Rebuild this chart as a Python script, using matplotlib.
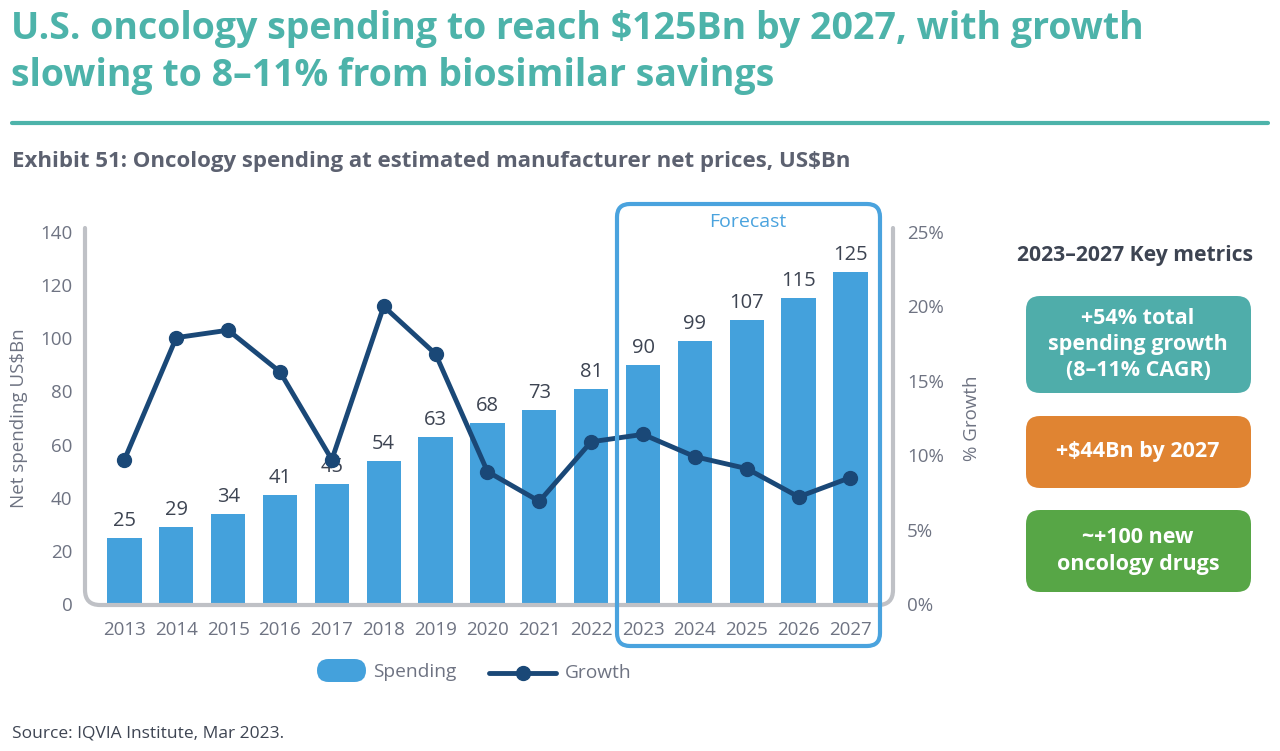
import matplotlib
matplotlib.use('Agg')
import matplotlib.pyplot as plt
from matplotlib.path import Path
from matplotlib.patches import PathPatch, FancyBboxPatch
from matplotlib.lines import Line2D

plt.rcParams['font.family'] = ['Open Sans', 'DejaVu Sans']

# ---------------- data ----------------
years = [str(y) for y in range(2013, 2028)]
spending = [25, 29, 34, 41, 45, 54, 63, 68, 73, 81, 90, 99, 107, 115, 125]
growth = [9.7, 17.9, 18.4, 15.6, 9.7, 20.0, 16.8, 8.9, 6.9, 10.9, 11.4, 9.9, 9.1, 7.2, 8.5]
left_ticks = [0, 20, 40, 60, 80, 100, 120, 140]
right_ticks = [0, 5, 10, 15, 20, 25]
right_tick_labels = ['0%', '5%', '10%', '15%', '20%', '25%']
metric_texts = ["+54% total\nspending growth\n(8–11% CAGR)", "+$44Bn by 2027", "~+100 new\noncology drugs"]
metric_colors = ['#4FADAA', '#E08432', '#57A646']

title_lines = ["U.S. oncology spending to reach $125Bn by 2027, with growth",
               "slowing to 8–11% from biosimilar savings"]
subtitle = "Exhibit 51: Oncology spending at estimated manufacturer net prices, US$Bn"
source = "Source: IQVIA Institute, Mar 2023."

# ---------------- styles ----------------
W, H = 1280, 751
TEAL = '#4DB3AA'
BAR = '#44A1DC'
LINE = '#1A4877'
FRAME = '#BFC1C6'
FC_BLUE = '#4AA3DE'
TICK = '#6E7382'
DARK = '#3D4452'

fig = plt.figure(figsize=(W / 100, H / 100), dpi=100)
fig.patch.set_facecolor('white')
T = fig.dpi_scale_trans


def px(x, y):
    return (x / 100.0, (H - y) / 100.0)


ax = fig.add_axes([85 / W, 1 - 604 / H, 808 / W, 372 / H])
x = list(range(len(years)))
bars = ax.bar(x, spending, width=0.66, color=BAR, zorder=2)
ax.bar_label(bars, labels=[str(v) for v in spending], padding=5, fontsize=14.5, color=DARK)
ax.set_xlim(-0.76, 14.82)
ax.set_ylim(0, 140)
ax.set_yticks(left_ticks)
ax.set_xticks(x)
ax.set_xticklabels(years)
ax.tick_params(axis='both', length=0, labelsize=13.5, labelcolor=TICK)
ax.tick_params(axis='y', pad=9)
ax.tick_params(axis='x', pad=12)
for s in ax.spines.values():
    s.set_visible(False)
ax.set_ylabel('Net spending US$Bn', fontsize=13.5, color=TICK)
ax.yaxis.set_label_coords(-0.0705, 0.5)

ax2 = ax.twinx()
ax2.plot(x, growth, color=LINE, lw=3.5, marker='o', ms=10, zorder=3)
ax2.set_ylim(0, 25)
ax2.set_yticks(right_ticks)
ax2.set_yticklabels(right_tick_labels)
ax2.tick_params(axis='y', length=0, labelsize=13.5, labelcolor=TICK, pad=10)
for s in ax2.spines.values():
    s.set_visible(False)
ax2.set_ylabel('% Growth', fontsize=13.5, color=TICK)
ax2.yaxis.set_label_coords(1.0866, 0.5)

# frame with rounded bottom corners
r = 15
pts = [px(85, 228), px(85, 605 - r), px(85, 605), px(85 + r, 605),
       px(893 - r, 605), px(893, 605), px(893, 605 - r), px(893, 228)]
codes = [Path.MOVETO, Path.LINETO, Path.CURVE3, Path.CURVE3,
         Path.LINETO, Path.CURVE3, Path.CURVE3, Path.LINETO]
frame = PathPatch(Path(pts, codes), fc='none', ec=FRAME, lw=3, transform=T,
                  capstyle='round', joinstyle='round', zorder=1)
fig.add_artist(frame)

# forecast box
x0, y0 = px(617, 646)
fbox = FancyBboxPatch((x0, y0), 2.63, 4.42, boxstyle='round,pad=0,rounding_size=0.13',
                      fc='none', ec=FC_BLUE, lw=3, transform=T, zorder=5)
fig.add_artist(fbox)
fig.text(748 / W, 1 - 222 / H, 'Forecast', color=FC_BLUE, fontsize=14, ha='center', va='center')

# title and rule
fig.text(11 / W, 1 - 29 / H, title_lines[0], color=TEAL, fontsize=27, fontweight='bold', va='center')
fig.text(11 / W, 1 - 76 / H, title_lines[1], color=TEAL, fontsize=27, fontweight='bold', va='center')
fig.add_artist(Line2D([12 / W, 1268 / W], [1 - 123 / H, 1 - 123 / H], color=TEAL, lw=3,
                      transform=fig.transFigure, solid_capstyle='round'))
fig.text(12 / W, 1 - 161 / H, subtitle, color='#5C6170', fontsize=16, fontweight='bold', va='center')

# legend
lx, ly = px(317, 682)
fig.add_artist(FancyBboxPatch((lx, ly), 0.49, 0.23, boxstyle='round,pad=0,rounding_size=0.115',
                              fc=BAR, ec='none', transform=T))
fig.text(373 / W, 1 - 672 / H, 'Spending', color=TICK, fontsize=13.8, va='center')
fig.add_artist(Line2D([489 / 100, 556 / 100], [(H - 673) / 100] * 2, color=LINE, lw=3.5,
                      transform=T, solid_capstyle='round'))
fig.add_artist(Line2D([523 / 100], [(H - 673) / 100], color=LINE, marker='o', ms=10, transform=T))
fig.text(565 / W, 1 - 673 / H, 'Growth', color=TICK, fontsize=13.8, va='center')

# right panel
fig.text(1135 / W, 1 - 255 / H, '2023–2027 Key metrics', color=DARK, fontsize=15.2,
         fontweight='bold', ha='center', va='center')
boxes = [(296, 393), (416, 488), (510, 592)]
for (top, bot), txt, col in zip(boxes, metric_texts, metric_colors):
    bx, by = px(1026, bot)
    fig.add_artist(FancyBboxPatch((bx, by), 2.25, (bot - top) / 100,
                                  boxstyle='round,pad=0,rounding_size=0.14',
                                  fc=col, ec='none', transform=T))
    fig.text(1138 / W, 1 - ((top + bot) / 2) / H, txt, color='white', fontsize=15.5,
             fontweight='bold', ha='center', va='center', linespacing=1.32)

fig.text(12 / W, 1 - 733 / H, source, color=DARK, fontsize=12.5, va='center')

fig.savefig('out.png', dpi=100)
